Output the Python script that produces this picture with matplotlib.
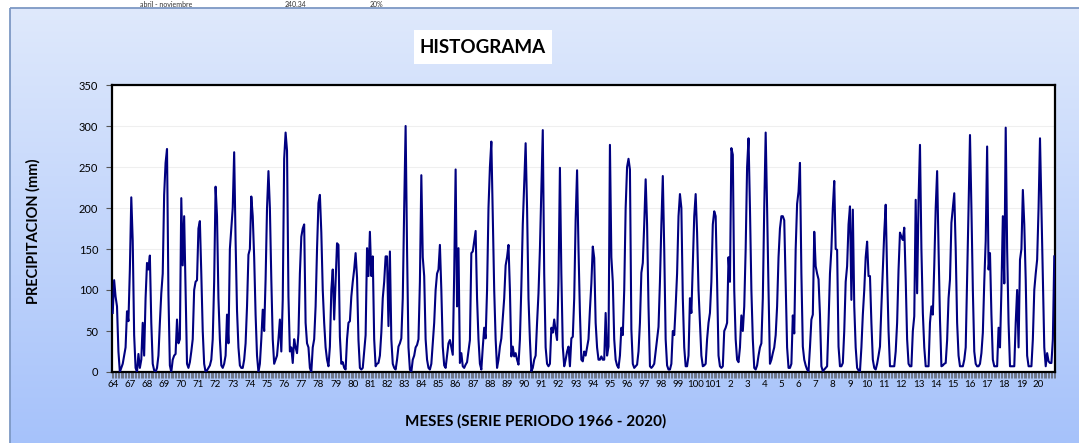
import numpy as np
import matplotlib
matplotlib.use("Agg")
import matplotlib.pyplot as plt
from matplotlib.colors import LinearSegmentedColormap
from matplotlib.patches import Rectangle
from matplotlib.ticker import FixedLocator, NullFormatter

plt.rcParams["font.family"] = ["Lato", "DejaVu Sans"]

# monthly precipitation (mm), Jan..Dec, one row per year
pp_1966_1975 = [
    72, 112, 92, 80, 25, 0, 5, 10, 20, 30, 74, 62,
    125, 213, 160, 45, 5, 0, 22, 5, 15, 60, 20, 90,
    133, 125, 142, 60, 10, 2, 0, 5, 20, 60, 96, 120,
    216, 255, 272, 95, 8, 0, 15, 20, 22, 64, 35, 40,
    212, 130, 190, 100, 10, 5, 12, 25, 40, 100, 110, 112,
    175, 184, 120, 50, 10, 0, 2, 5, 8, 15, 40, 110,
    226, 190, 90, 40, 8, 5, 10, 20, 70, 35, 150, 175,
    200, 268, 160, 75, 30, 8, 5, 5, 15, 35, 80, 143,
    150, 214, 190, 140, 70, 20, 0, 10, 40, 76, 50, 113,
    200, 245, 200, 113, 40, 10, 15, 20, 40, 64, 25, 88,
]
pp_1976_1985 = [
    260, 292, 270, 92, 25, 30, 11, 40, 30, 23, 47, 120,
    165, 175, 180, 60, 35, 30, 5, 0, 30, 40, 80, 150,
    206, 216, 170, 100, 60, 30, 15, 7, 31, 100, 125, 64,
    110, 157, 155, 43, 10, 12, 5, 3, 40, 60, 62, 92,
    110, 125, 145, 115, 39, 5, 3, 5, 25, 45, 151, 117,
    171, 117, 141, 40, 7, 10, 11, 20, 48, 90, 110, 141,
    141, 56, 147, 40, 10, 5, 3, 15, 31, 35, 41, 90,
    200, 300, 150, 30, 3, 0, 15, 20, 30, 33, 40, 110,
    240, 140, 117, 40, 15, 5, 3, 10, 35, 60, 100, 120,
    125, 155, 100, 31, 8, 5, 20, 35, 39, 30, 21, 120,
]
pp_1986_1995 = [
    247, 80, 151, 11, 23, 7, 5, 9, 12, 25, 39, 145,
    147, 160, 172, 90, 40, 10, 3, 30, 54, 41, 100, 200,
    250, 281, 190, 100, 40, 5, 15, 31, 41, 65, 90, 130,
    140, 155, 100, 19, 31, 19, 23, 15, 9, 40, 104, 180,
    230, 279, 200, 90, 39, 1, 5, 15, 20, 60, 96, 150,
    220, 295, 120, 30, 10, 7, 10, 54, 48, 64, 50, 39,
    110, 249, 120, 31, 7, 15, 25, 31, 7, 41, 43, 90,
    186, 246, 150, 72, 15, 13, 25, 20, 30, 40, 76, 108,
    153, 139, 60, 30, 15, 15, 19, 15, 15, 72, 20, 31,
    277, 140, 110, 40, 15, 8, 5, 20, 54, 45, 100, 200,
]
pp_1996_2005 = [
    250, 260, 247, 52, 10, 5, 7, 9, 25, 60, 121, 133,
    180, 235, 180, 80, 7, 5, 7, 10, 25, 40, 55, 110,
    180, 239, 150, 40, 8, 3, 3, 10, 50, 45, 80, 120,
    190, 217, 200, 90, 30, 7, 7, 20, 90, 72, 130, 190,
    217, 170, 100, 60, 20, 7, 8, 10, 40, 60, 72, 110,
    180, 196, 190, 110, 20, 7, 5, 7, 50, 54, 60, 140,
    110, 273, 265, 100, 40, 15, 12, 30, 69, 50, 80, 150,
    250, 285, 200, 100, 40, 5, 3, 8, 20, 30, 35, 90,
    200, 292, 200, 100, 10, 15, 23, 30, 45, 80, 140, 175,
    190, 190, 185, 110, 30, 5, 5, 10, 69, 47, 150, 205,
]
pp_2006_2015 = [
    220, 255, 120, 31, 15, 8, 3, 1, 30, 64, 70, 171,
    129, 120, 113, 70, 7, 1, 3, 5, 7, 60, 120, 150,
    200, 233, 150, 149, 31, 7, 7, 11, 50, 110, 129, 180,
    202, 88, 198, 80, 30, 5, 2, 1, 30, 70, 100, 140,
    159, 117, 117, 60, 15, 5, 3, 10, 20, 31, 80, 125,
    170, 204, 120, 50, 7, 7, 7, 7, 25, 60, 125, 170,
    165, 161, 176, 113, 40, 10, 7, 7, 50, 68, 210, 96,
    210, 277, 150, 72, 30, 7, 7, 7, 60, 80, 70, 130,
    200, 245, 150, 64, 7, 8, 10, 11, 39, 90, 113, 182,
    200, 218, 150, 60, 20, 7, 7, 7, 15, 30, 113, 200,
]
pp_2016_2020 = [
    289, 200, 100, 25, 10, 7, 7, 10, 23, 48, 110, 160,
    275, 125, 145, 70, 15, 7, 7, 7, 54, 30, 100, 190,
    108, 298, 150, 60, 7, 7, 7, 7, 60, 100, 30, 137,
    150, 222, 180, 113, 20, 7, 7, 7, 40, 100, 120, 137,
    200, 285, 200, 113, 30, 7, 23, 13, 11, 11, 40, 141,
]

year_labels = ["64"] + [str(y) for y in range(67, 100)] + ["100", "101"] + \
              [str(y) for y in range(2, 21)]

precip = np.array(pp_1966_1975 + pp_1976_1985 + pp_1986_1995 +
                  pp_1996_2005 + pp_2006_2015 + pp_2016_2020, dtype=float)
months = np.arange(len(precip))

W, H = 1079, 443
fig = plt.figure(figsize=(W / 100, H / 100), dpi=100)
fig.patch.set_facecolor("white")

# chart area: blue vertical gradient with a thin border
bg = fig.add_axes([0, 0, 1, 1], zorder=-10)
bg.set_xlim(0, W)
bg.set_ylim(H, 0)
bg.axis("off")
grad_cmap = LinearSegmentedColormap.from_list("chartbg", ["#dfe9fc", "#a6c2fa"])
bg.imshow(np.linspace(0, 1, 256).reshape(-1, 1), extent=(10, W + 5, H, 8),
          aspect="auto", cmap=grad_cmap, zorder=0)
bg.add_patch(Rectangle((10, 8), W, H, fill=False, edgecolor="#7d98c4", lw=1.3, zorder=1))
bg.add_patch(Rectangle((414, 30), 138, 34, facecolor="white", edgecolor="none", zorder=2))
bg.text(483, 47, "HISTOGRAMA", ha="center", va="center", fontsize=13.5,
        fontweight="bold", zorder=3)

# small cell text in the strip above the chart
for x, s in [(140, "abril - noviembre"), (285, "240.34"), (370, "20%")]:
    bg.text(x, 4, s, ha="left", va="center", fontsize=5, color="#333333")

ax = fig.add_axes([112 / W, 1 - 372 / H, 943 / W, 287 / H])
ax.set_facecolor("white")
ax.plot(months, precip, color="#000080", lw=1.5, zorder=3)

ax.set_xlim(-0.5, len(precip) - 0.5)
ax.set_ylim(0, 350)
ax.set_yticks(np.arange(0, 351, 50))
ax.grid(axis="y", color="#efefef", lw=0.8, zorder=0)

ax.set_xticks(months[::12])
ax.set_xticklabels(year_labels, fontsize=7)
ax.xaxis.set_minor_locator(FixedLocator(np.arange(-0.5, len(precip), 1)))
ax.xaxis.set_minor_formatter(NullFormatter())
ax.tick_params(axis="x", which="major", length=0, pad=6)
ax.tick_params(axis="x", which="minor", length=4, width=0.5, color="#555555")
ax.tick_params(axis="y", length=4, width=0.8, color="#555555", labelsize=8, pad=6)

for sp in ax.spines.values():
    sp.set_linewidth(1.6)
    sp.set_color("black")

fig.text(33 / W, 1 - 231 / H, "PRECIPITACION (mm)", rotation=90, ha="center",
         va="center", fontsize=10.5, fontweight="bold")
fig.text(536 / W, 1 - 421 / H, "MESES (SERIE PERIODO 1966 - 2020)", ha="center",
         va="center", fontsize=11, fontweight="bold")

fig.savefig("out.png", dpi=100)
